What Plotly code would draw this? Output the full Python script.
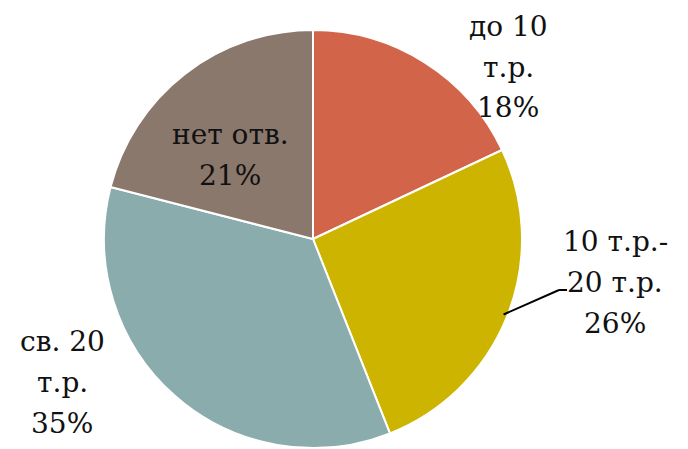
import math
import plotly.graph_objects as go

# ---- data ----
categories = ["до 10 т.р.", "10 т.р.-20 т.р.", "св. 20 т.р.", "нет отв."]
values = [18, 26, 35, 21]
label_lines = [["до 10", "т.р."], ["10 т.р.-", "20 т.р."], ["св. 20", "т.р."], ["нет отв."]]
colors = ["#D2644A", "#CCB400", "#8BACAC", "#8B786D"]

# page has an 8px body margin, so the figure is drawn 8px smaller and
# window pixel positions are mapped with that offset
OFF = 8
W, H = 688 - OFF, 449 - OFF
CX, CY, R = 313, 239, 209

def px(x):
    return (x - OFF) / W

def py(y):
    return 1 - (y - OFF) / H

fig = go.Figure(go.Pie(
    labels=categories,
    values=values,
    sort=False,
    direction="clockwise",
    rotation=0,
    marker=dict(colors=colors, line=dict(color="white", width=2)),
    textinfo="none",
    hoverinfo="label+percent",
    domain=dict(x=[px(CX - R), px(CX + R)], y=[py(CY + R), py(CY - R)]),
    showlegend=False,
))

# label placement (window pixel centre of the first line, line step)
label_pos = [(508, 26), (615, 241), (62, 341), (230, 134)]
STEP = 41
font = dict(family="DejaVu Serif", size=28, color="#111111")
total = sum(values)
annotations = []
for lines, v, (lx, ly) in zip(label_lines, values, label_pos):
    pct = round(100 * v / total)
    for i, t in enumerate(lines + [f"{pct}%"]):
        annotations.append(dict(
            x=px(lx), y=py(ly + i * STEP), xref="paper", yref="paper",
            text=t, showarrow=False, font=font, align="center",
            xanchor="center", yanchor="middle",
        ))

# leader line for the second slice
cum = values[0] + values[1] / 2
ang = math.radians(360 * cum / total)
sx = CX + (R - 4) * math.sin(ang)
sy = CY - (R - 4) * math.cos(ang)
shapes = [
    dict(type="line", xref="paper", yref="paper",
         x0=px(sx), y0=py(sy), x1=px(559), y1=py(290),
         line=dict(color="black", width=2)),
    dict(type="line", xref="paper", yref="paper",
         x0=px(559), y0=py(290), x1=px(567), y1=py(290),
         line=dict(color="black", width=2)),
]

fig.update_layout(
    width=W, height=H,
    margin=dict(l=0, r=0, t=0, b=0),
    paper_bgcolor="white", plot_bgcolor="white",
    annotations=annotations, shapes=shapes,
)

fig.write_html("out.html")
